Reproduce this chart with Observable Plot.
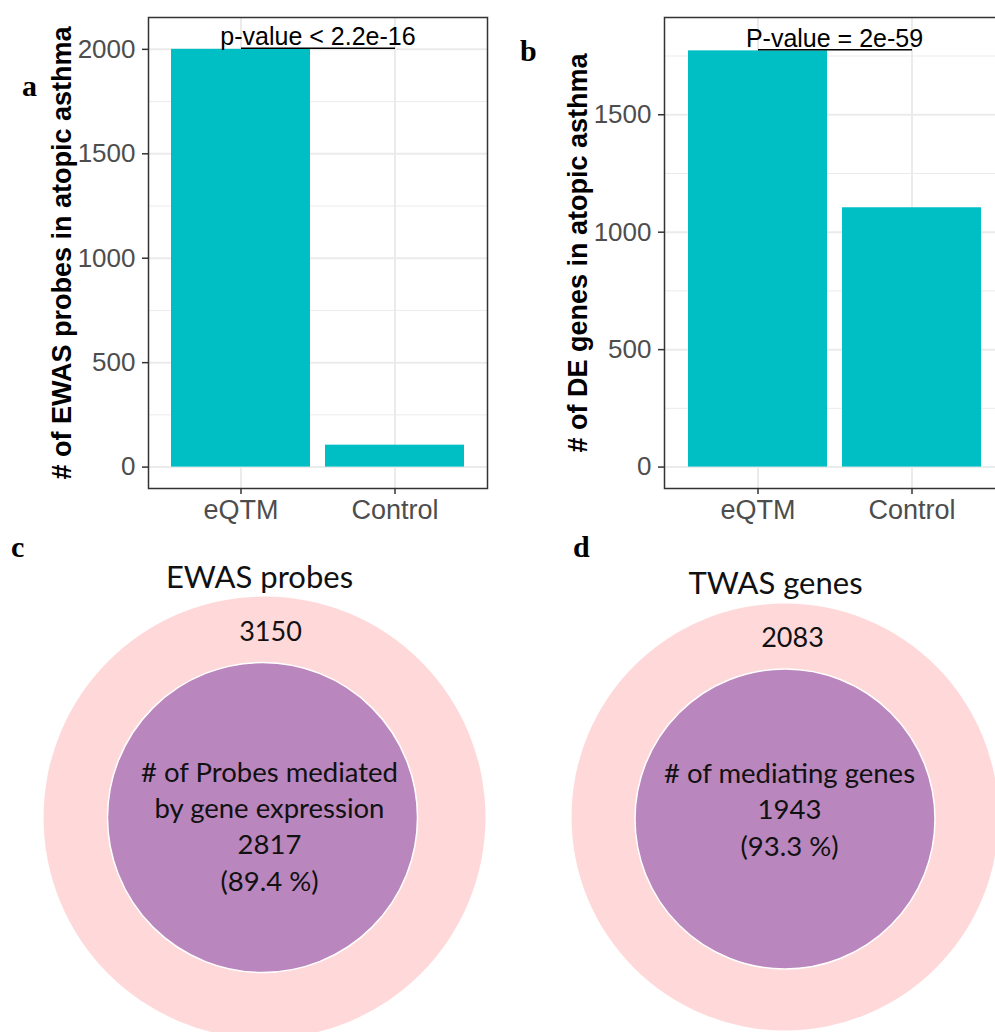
<!DOCTYPE html>
<html><head><meta charset="utf-8">
<script src="https://cdn.jsdelivr.net/npm/d3@7"></script>
<script src="https://cdn.jsdelivr.net/npm/@observablehq/plot@0.6"></script>
<style>
html,body{margin:0;padding:0;background:#fff;}
#fig{position:relative;width:995px;height:1032px;overflow:hidden;background:#fff;}
.panel{position:absolute;}
.tag{position:absolute;font-family:"Liberation Serif","Times New Roman",serif;font-weight:bold;font-size:30px;line-height:30px;color:#000;}
</style></head><body>
<div id="fig"></div>
<script>
// ---- data ----
const categories = ["eQTM", "Control"];
const ewasProbeCounts = [2000, 105];      // panel a
const deGeneCounts = [1772, 1104];        // panel b
const yTicksA = [0, 500, 1000, 1500, 2000];
const yMinorA = [250, 750, 1250, 1750];
const yTicksB = [0, 500, 1000, 1500];
const yMinorB = [250, 750, 1250, 1750];
const pLabelA = "p-value < 2.2e-16";
const pLabelB = "P-value = 2e-59";
const yTitleA = "# of EWAS probes in atopic asthma";
const yTitleB = "# of DE genes in atopic asthma";
const ewasTitle = "EWAS probes", ewasTotal = 3150, ewasInnerLabel = ["# of Probes mediated", "by gene expression"], ewasMediated = 2817, ewasPct = "89.4";
const twasTitle = "TWAS genes", twasTotal = 2083, twasInnerLabel = ["# of mediating genes"], twasMediating = 1943, twasPct = "93.3";

const fig = document.getElementById("fig");
const SANS = '"Liberation Sans", Arial, Helvetica, sans-serif';
const CAL = 'Lato, "Open Sans", sans-serif';

function place(node, left, top) {
  node.classList.add("panel");
  node.style.left = left + "px";
  node.style.top = top + "px";
  fig.appendChild(node);
}
function tag(t, left, top) {
  const d = document.createElement("div");
  d.className = "tag"; d.textContent = t;
  d.style.left = left + "px"; d.style.top = top + "px";
  fig.appendChild(d);
}

function barPanel({values, domainY, ticks, minor, pLabel, pY, title, width, marginLeft, marginRight}) {
  const data = categories.map((c, i) => ({category: c, value: values[i]}));
  return Plot.plot({
    width, height: 530, marginLeft, marginRight, marginTop: 17, marginBottom: 42,
    style: {fontFamily: SANS, background: "white", overflow: "visible"},
    x: {type: "band", domain: categories, paddingInner: 0.1, paddingOuter: 0.15, label: null},
    y: {domain: domainY, label: null},
    marks: [
      Plot.ruleY(minor, {stroke: "#ebebeb", strokeWidth: 1}),
      Plot.ruleY(ticks, {stroke: "#ebebeb", strokeWidth: 2}),
      Plot.ruleX(categories, {x: d => d, stroke: "#ebebeb", strokeWidth: 2}),
      Plot.barY(data, {x: "category", y: "value", fill: "#00BFC4"}),
      Plot.link([pY], {x1: () => categories[0], x2: () => categories[1], y1: d => d, y2: d => d, stroke: "#000", strokeWidth: 1.6}),
      Plot.text([pLabel], {text: d => d, y: () => pY, lineAnchor: "bottom", dy: -3, fontSize: 25, fill: "#000"}),
      Plot.frame({stroke: "#333", strokeWidth: 1.5}),
      Plot.axisY({ticks, tickFormat: d => String(d), tickSize: 6, tickPadding: 7, fontSize: 26, color: "#4d4d4d", stroke: "#333", strokeWidth: 1.5, label: null}),
      Plot.axisX({tickSize: 6, tickPadding: 5, fontSize: 27, color: "#4d4d4d", stroke: "#333", strokeWidth: 1.5, label: null}),
      Plot.text([title], {text: d => d, frameAnchor: "left", textAnchor: "middle", lineAnchor: "middle", rotate: -90, dx: -86, fontSize: 27, fontWeight: "bold", fill: "#000"})
    ]
  });
}

function vennPanel({width, marginLeft, marginTop, outerR, innerR, innerDx, innerDy, title, titleDx, titleDy, total, totalDx, totalDy, innerText, innerTextDx, innerTextDy}) {
  return Plot.plot({
    width, height: 502, marginLeft, marginRight: 0, marginTop, marginBottom: 0,
    style: {fontFamily: CAL, background: "transparent", overflow: "visible"},
    marks: [
      Plot.dot([total], {frameAnchor: "middle", r: outerR, fill: "#FFD9D9", stroke: null}),
      Plot.dot([innerText], {frameAnchor: "middle", r: innerR, dx: innerDx, dy: innerDy, fill: "#BA86BE", stroke: "#fff", strokeWidth: 1.5}),
      Plot.text([title], {text: d => d, frameAnchor: "middle", lineAnchor: "bottom", dx: titleDx, dy: titleDy, fontSize: 31, fill: "#111"}),
      Plot.text([total], {text: d => String(d), frameAnchor: "middle", lineAnchor: "bottom", dx: totalDx, dy: totalDy, fontSize: 27, fill: "#111"}),
      Plot.text([innerText], {text: d => d, frameAnchor: "middle", lineAnchor: "bottom", lineHeight: 36.3 / 27.5, dx: innerTextDx, dy: innerTextDy, fontSize: 27.5, fill: "#111"})
    ]
  });
}

place(barPanel({values: ewasProbeCounts, domainY: [-102.5, 2152.5], ticks: yTicksA, minor: yMinorA, pLabel: pLabelA, pY: 2005, title: yTitleA, width: 500, marginLeft: 148, marginRight: 13}), 0, 0);
place(barPanel({values: deGeneCounts, domainY: [-91.2, 1914], ticks: yTicksB, minor: yMinorB, pLabel: pLabelB, pY: 1777, title: yTitleB, width: 520, marginLeft: 164, marginRight: 16}), 500, 0);

place(vennPanel({width: 500, marginLeft: 28, marginTop: 72, outerR: 221, innerR: 155, innerDx: -2, innerDy: 0,
  title: ewasTitle, titleDx: -5, titleDy: -230, total: ewasTotal, totalDx: 6, totalDy: -177,
  innerText: [...ewasInnerLabel, String(ewasMediated), `(${ewasPct} %)`].join("\n"), innerTextDx: 5, innerTextDy: 73}), 0, 530);
place(vennPanel({width: 520, marginLeft: 49, marginTop: 71, outerR: 213.5, innerR: 150, innerDx: 0, innerDy: 2,
  title: twasTitle, titleDx: -9.5, titleDy: -223, total: twasTotal, totalDx: 7.5, totalDy: -170.5,
  innerText: [...twasInnerLabel, String(twasMediating), `(${twasPct} %)`].join("\n"), innerTextDx: 4.5, innerTextDy: 38.5}), 500, 530);

tag("a", 22, 71);
tag("b", 520, 36);
tag("c", 11, 532);
tag("d", 573, 532);
</script>
</body></html>
